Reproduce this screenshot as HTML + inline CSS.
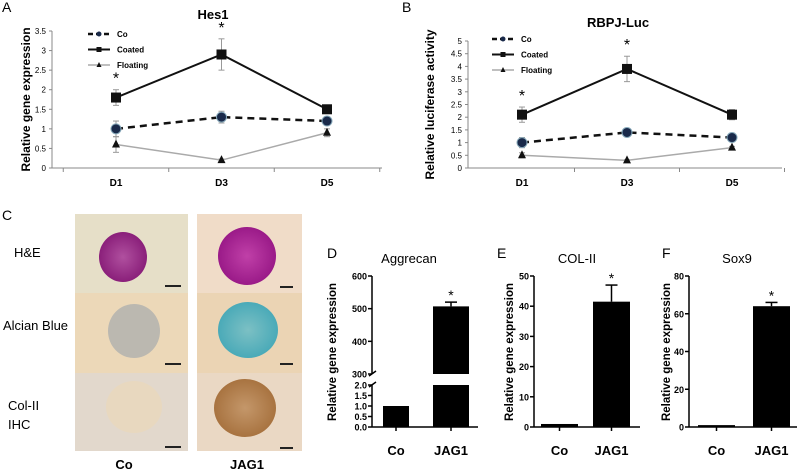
<!DOCTYPE html>
<html><head><meta charset="utf-8"><style>
body{margin:0;background:#fff;}
svg{display:block;font-family:"Liberation Sans",Arial,sans-serif;}
</style></head><body>
<svg id="fig" width="800" height="473" viewBox="0 0 800 473">
<defs>
<radialGradient id="gHE1"><stop offset="0" stop-color="#b0509f"/><stop offset="1" stop-color="#8a1f7a"/></radialGradient>
<radialGradient id="gHE2"><stop offset="0" stop-color="#c040a8"/><stop offset="1" stop-color="#9a1a88"/></radialGradient>
<radialGradient id="gAB2"><stop offset="0" stop-color="#7cc0c4"/><stop offset="1" stop-color="#4aaab8"/></radialGradient>
<radialGradient id="gIH2"><stop offset="0" stop-color="#c4976a"/><stop offset="1" stop-color="#a87340"/></radialGradient>
</defs>
<text x="2" y="12" font-size="14">A</text>
<text x="402" y="12" font-size="14">B</text>
<text x="2" y="220" font-size="14">C</text>
<text x="327" y="258" font-size="14">D</text>
<text x="497" y="258" font-size="14">E</text>
<text x="662" y="258" font-size="14">F</text>

<g>
<rect x="75" y="214" width="113" height="80" fill="#e6dfc8"/>
<rect x="197" y="214" width="105" height="80" fill="#f0dcc8"/>
<rect x="75" y="293" width="113" height="80" fill="#ecd8b8"/>
<rect x="197" y="293" width="105" height="80" fill="#ebd4b4"/>
<rect x="75" y="373" width="113" height="78" fill="#e2d8cc"/>
<rect x="197" y="373" width="105" height="78" fill="#ead8c4"/>
<ellipse cx="123" cy="257" rx="24" ry="25" fill="url(#gHE1)"/>
<ellipse cx="247" cy="256" rx="29" ry="29" fill="url(#gHE2)"/>
<ellipse cx="134" cy="331" rx="26" ry="27" fill="#bbb8b0"/>
<ellipse cx="248" cy="330" rx="30" ry="28" fill="url(#gAB2)"/>
<ellipse cx="134" cy="407" rx="28" ry="26" fill="#e8d8bf"/>
<ellipse cx="245" cy="408" rx="31" ry="29" fill="url(#gIH2)"/>
<g fill="#222">
<rect x="165" y="285" width="16" height="2"/><rect x="280" y="286" width="13" height="2"/>
<rect x="165" y="363" width="16" height="2"/><rect x="280" y="363" width="13" height="2"/>
<rect x="165" y="446" width="16" height="2"/><rect x="280" y="447" width="13" height="2"/>
</g>
<g font-family="'Liberation Sans','Noto Sans CJK SC',sans-serif" font-size="13">
<text x="14" y="257">H&amp;E</text>
<text x="3" y="330">Alcian Blue</text>
<text x="8" y="410">Col-II</text>
<text x="8" y="429">IHC</text>
</g>
<text x="124" y="469" font-size="13" font-weight="bold" text-anchor="middle">Co</text>
<text x="247" y="469" font-size="13" font-weight="bold" text-anchor="middle">JAG1</text>
</g>
<g id="charts"></g>
</svg>
<script>
const days = ["D1","D3","D5"];
const hesCo = [1.0, 1.3, 1.2];
const hesCoErr = [0.2, 0.15, 0.05];
const hesCoated = [1.8, 2.9, 1.5];
const hesCoatedErr = [0.2, 0.4, 0.05];
const hesFloat = [0.6, 0.2, 0.9];
const hesFloatErr = [0.2, 0.03, 0.1];
const hesTicks = [0,0.5,1,1.5,2,2.5,3,3.5];
const lucCo = [1.0, 1.4, 1.2];
const lucCoErr = [0.2, 0.05, 0.15];
const lucCoated = [2.1, 3.9, 2.1];
const lucCoatedErr = [0.3, 0.5, 0.2];
const lucFloat = [0.5, 0.3, 0.8];
const lucFloatErr = [0.1, 0.03, 0.05];
const lucTicks = [0,0.5,1,1.5,2,2.5,3,3.5,4,4.5,5];
const sigDaysHes = [0,1];
const sigDaysLuc = [0,1];
const barCats = ["Co","JAG1"];
const aggVals = [1.0, 507];
const aggErr = [0, 13];
const colVals = [1.0, 41.5];
const colErr = [0, 5.5];
const soxVals = [1.0, 64];
const soxErr = [0, 2];
const colTicks = [0,10,20,30,40,50];
const soxTicks = [0,20,40,60,80];
const aggTicksHi = [300,400,500,600];
const aggTicksLo = ["0.0","0.5","1.0","1.5","2.0"];

const NS="http://www.w3.org/2000/svg";
const root=document.getElementById('charts');
function el(tag,attrs,parent,txt){const e=document.createElementNS(NS,tag);for(const k in attrs)e.setAttribute(k,attrs[k]);if(txt!==undefined)e.textContent=txt;(parent||root).appendChild(e);return e;}

function lineChart(o){
  const g=el('g',{});
  
  
  const y=v=>o.y0-(v/o.ymax)*(o.y0-o.yTop);
  const xc=i=>o.xs[0]+i*(o.xs[1]-o.xs[0]);
  el('line',{x1:o.ax,y1:o.yTop,x2:o.ax,y2:o.y0,stroke:'#888','stroke-width':1},g);
  el('line',{x1:o.ax,y1:o.y0,x2:o.axEnd,y2:o.y0,stroke:'#888','stroke-width':1},g);
  o.ticks.forEach(t=>{el('line',{x1:o.ax-3,y1:y(t),x2:o.ax,y2:y(t),stroke:'#888'},g);
    const tl=el('text',{x:o.ax-6,y:y(t)+3,'font-size':8,'text-anchor':'end'},g,String(t));
    });
  const step=o.xs[1]-o.xs[0];
  for(let i=0;i<=days.length;i++){const tx=xc(i)-step/2;if(tx>o.ax+2)el('line',{x1:tx,y1:o.y0,x2:tx,y2:o.y0+4,stroke:'#888'},g);}
  days.forEach((d,i)=>{const t=el('text',{x:xc(i),y:o.y0+18,'font-size':10,'font-weight':'bold','text-anchor':'middle'},g,d);
    });
  const tt=el('text',{x:o.titleX,y:o.titleY,'font-size':13,'font-weight':'bold','text-anchor':'middle'},g,o.title);
  
  const yl=el('text',{transform:`translate(${o.ylx},${(o.y0+o.yTop)/2}) rotate(-90)`,'font-size':12,'font-weight':'bold','text-anchor':'middle'},g,o.ylabel);
  
  const series=[
    {v:o.co,e:o.coE,stroke:'#111',w:2.5,dash:'7,5',mk:'circle',fill:'#1a2a4a',name:'series-co'},
    {v:o.coated,e:o.coatedE,stroke:'#111',w:2,dash:'',mk:'square',fill:'#111',name:'series-coated'},
    {v:o.fl,e:o.flE,stroke:'#aaa',w:1.5,dash:'',mk:'tri',fill:'#111',name:'series-floating'}];
  series.forEach(s=>{
    const sg=el('g',{},g);
    
    s.v.forEach((v,i)=>{el('line',{x1:xc(i),y1:y(v+s.e[i]),x2:xc(i),y2:y(v-s.e[i]),stroke:'#999'},sg);
      el('line',{x1:xc(i)-3,y1:y(v+s.e[i]),x2:xc(i)+3,y2:y(v+s.e[i]),stroke:'#999'},sg);
      el('line',{x1:xc(i)-3,y1:y(v-s.e[i]),x2:xc(i)+3,y2:y(v-s.e[i]),stroke:'#999'},sg);});
    el('polyline',{points:s.v.map((v,i)=>xc(i)+','+y(v)).join(' '),fill:'none',stroke:s.stroke,'stroke-width':s.w,'stroke-dasharray':s.dash},sg);
    s.v.forEach((v,i)=>{let m;
      if(s.mk==='circle')m=el('circle',{cx:xc(i),cy:y(v),r:5,fill:s.fill,stroke:'#8ab',"stroke-width":1},sg);
      else if(s.mk==='square')m=el('rect',{x:xc(i)-5,y:y(v)-5,width:10,height:10,fill:s.fill},sg);
      else m=el('polygon',{points:`${xc(i)},${y(v)-5} ${xc(i)-4},${y(v)+3} ${xc(i)+4},${y(v)+3}`,fill:s.fill},sg);
      });
  });
  o.sig.forEach(i=>{const v=o.coated[i]+o.coatedE[i];
    const st=el('text',{x:xc(i),y:y(v)-6,'font-size':16,'text-anchor':'middle'},g,'*');
    });
  const lg=el('g',{},g);
  
  const labels=['Co','Coated','Floating'];
  series.forEach((s,k)=>{const ly=o.legY+k*15.5;
    el('line',{x1:o.legX,y1:ly,x2:o.legX+22,y2:ly,stroke:s.stroke,'stroke-width':s.w,'stroke-dasharray':s.dash?'5,3':''},lg);
    const cx=o.legX+11;
    if(s.mk==='circle')el('circle',{cx:cx,cy:ly,r:2.5,fill:'#1a2a4a'},lg);
    else if(s.mk==='square')el('rect',{x:cx-2.5,y:ly-2.5,width:5,height:5,fill:'#111'},lg);
    else el('polygon',{points:`${cx},${ly-3} ${cx-2.5},${ly+2} ${cx+2.5},${ly+2}`,fill:'#111'},lg);
    const lt=el('text',{x:o.legX+29,y:ly+3,'font-size':8,'font-weight':'bold'},lg,labels[k]);
    });
}
lineChart({name:'hes1-chart',ax:52,axEnd:382,yTop:31,y0:168,ymax:3.5,ticks:hesTicks,xs:[116,221.5],
  co:hesCo,coE:hesCoErr,coated:hesCoated,coatedE:hesCoatedErr,fl:hesFloat,flE:hesFloatErr,sig:sigDaysHes,
  title:'Hes1',titleX:213,titleY:19,ylabel:'Relative gene expression',ylx:30,legX:88,legY:34});
lineChart({name:'rbpj-luc-chart',ax:468,axEnd:782,yTop:41,y0:168,ymax:5,ticks:lucTicks,xs:[522,627],
  co:lucCo,coE:lucCoErr,coated:lucCoated,coatedE:lucCoatedErr,fl:lucFloat,flE:lucFloatErr,sig:sigDaysLuc,
  title:'RBPJ-Luc',titleX:618,titleY:27,ylabel:'Relative luciferase activity',ylx:434,legX:492,legY:39});

function barChart(o){
  const g=el('g',{});
  
  const y=v=>o.y0-(v/o.ymax)*(o.y0-o.yTop);
  el('line',{x1:o.ax,y1:o.yTop,x2:o.ax,y2:o.y0,stroke:'#000','stroke-width':1.5},g);
  el('line',{x1:o.ax,y1:o.y0,x2:o.axEnd,y2:o.y0,stroke:'#000','stroke-width':1.5},g);
  o.ticks.forEach(t=>{el('line',{x1:o.ax-4,y1:y(t),x2:o.ax,y2:y(t),stroke:'#000','stroke-width':1.5},g);
    const tl=el('text',{x:o.ax-5,y:y(t)+3.5,'font-size':9,'font-weight':'bold','text-anchor':'end'},g,String(t));
    });
  barCats.forEach((c,i)=>{const bx=o.bx[i];
    const b=el('rect',{x:bx,y:y(o.vals[i]),width:o.bw,height:o.y0-y(o.vals[i]),fill:'#000'},g);
    
    if(o.err[i]>0){const cx=bx+o.bw/2;el('line',{x1:cx,y1:y(o.vals[i]),x2:cx,y2:y(o.vals[i]+o.err[i]),stroke:'#000','stroke-width':1.5},g);
      el('line',{x1:cx-6,y1:y(o.vals[i]+o.err[i]),x2:cx+6,y2:y(o.vals[i]+o.err[i]),stroke:'#000','stroke-width':1.5},g);
      const st=el('text',{x:cx,y:y(o.vals[i]+o.err[i])-2,'font-size':14,'text-anchor':'middle'},g,'*');
      }
    el('line',{x1:bx+o.bw/2,y1:o.y0,x2:bx+o.bw/2,y2:o.y0+4,stroke:'#000','stroke-width':1.5},g);
    const xl=el('text',{x:bx+o.bw/2,y:455,'font-size':13,'font-weight':'bold','text-anchor':'middle'},g,c);
    });
  const tt=el('text',{x:o.titleX,y:263,'font-size':13,'text-anchor':'middle'},g,o.title);
  
  const yl=el('text',{transform:`translate(${o.ylx},352) rotate(-90)`,'font-size':11.5,'font-weight':'bold','text-anchor':'middle'},g,'Relative gene expression');
  
}
barChart({name:'col2-chart',ax:534,axEnd:640,yTop:276,y0:427,ymax:50,ticks:colTicks,bx:[541,593],bw:37,vals:colVals,err:colErr,title:'COL-II',titleX:577,ylx:513});
barChart({name:'sox9-chart',ax:689,axEnd:797,yTop:276,y0:427,ymax:80,ticks:soxTicks,bx:[698,753],bw:37,vals:soxVals,err:soxErr,title:'Sox9',titleX:737,ylx:670});

(function(){
  const g=el('g',{});
  
  const ax=372,y0=427,loTop=385,hiBot=374,hiTop=276;
  const yLo=v=>y0-(v/2)*(y0-loTop);
  const yHi=v=>hiBot-((v-300)/300)*(hiBot-hiTop);
  el('line',{x1:ax,y1:hiTop,x2:ax,y2:hiBot,stroke:'#000','stroke-width':1.5},g);
  el('line',{x1:ax,y1:loTop,x2:ax,y2:y0,stroke:'#000','stroke-width':1.5},g);
  el('line',{x1:ax,y1:y0,x2:478,y2:y0,stroke:'#000','stroke-width':1.5},g);
  el('line',{x1:ax-3,y1:hiBot+2,x2:ax+4,y2:hiBot-3,stroke:'#000','stroke-width':1.5},g);
  el('line',{x1:ax-3,y1:loTop+2,x2:ax+4,y2:loTop-3,stroke:'#000','stroke-width':1.5},g);
  aggTicksHi.forEach(t=>{el('line',{x1:ax-4,y1:yHi(t),x2:ax,y2:yHi(t),stroke:'#000','stroke-width':1.5},g);
    const tl=el('text',{x:ax-5,y:yHi(t)+3.5,'font-size':9,'font-weight':'bold','text-anchor':'end'},g,String(t));
    });
  aggTicksLo.forEach(t=>{el('line',{x1:ax-4,y1:yLo(+t),x2:ax,y2:yLo(+t),stroke:'#000','stroke-width':1.5},g);
    const tl=el('text',{x:ax-5,y:yLo(+t)+3.5,'font-size':9,'font-weight':'bold','text-anchor':'end'},g,t);
    });
  const bx=[383,433],bw=[26,36];
  barCats.forEach((c,i)=>{const v=aggVals[i];const cx=bx[i]+bw[i]/2;
    let b;
    if(v<=2){b=el('rect',{x:bx[i],y:yLo(v),width:bw[i],height:y0-yLo(v),fill:'#000'},g);}
    else{b=el('rect',{x:bx[i],y:loTop,width:bw[i],height:y0-loTop,fill:'#000'},g);
      const b2=el('rect',{x:bx[i],y:yHi(v),width:bw[i],height:hiBot-yHi(v),fill:'#000'},g);
      
      el('line',{x1:cx,y1:yHi(v),x2:cx,y2:yHi(v+aggErr[i]),stroke:'#000','stroke-width':1.5},g);
      el('line',{x1:cx-6,y1:yHi(v+aggErr[i]),x2:cx+6,y2:yHi(v+aggErr[i]),stroke:'#000','stroke-width':1.5},g);
      const st=el('text',{x:cx,y:yHi(v+aggErr[i])-2,'font-size':14,'text-anchor':'middle'},g,'*');
      }
    
    el('line',{x1:cx,y1:y0,x2:cx,y2:y0+4,stroke:'#000','stroke-width':1.5},g);
    const xl=el('text',{x:cx,y:455,'font-size':13,'font-weight':'bold','text-anchor':'middle'},g,c);
    });
  const tt=el('text',{x:409,y:263,'font-size':13,'text-anchor':'middle'},g,'Aggrecan');
  
  const yl=el('text',{transform:'translate(336,352) rotate(-90)','font-size':11.5,'font-weight':'bold','text-anchor':'middle'},g,'Relative gene expression');
  
})();
</script>
</body></html>
